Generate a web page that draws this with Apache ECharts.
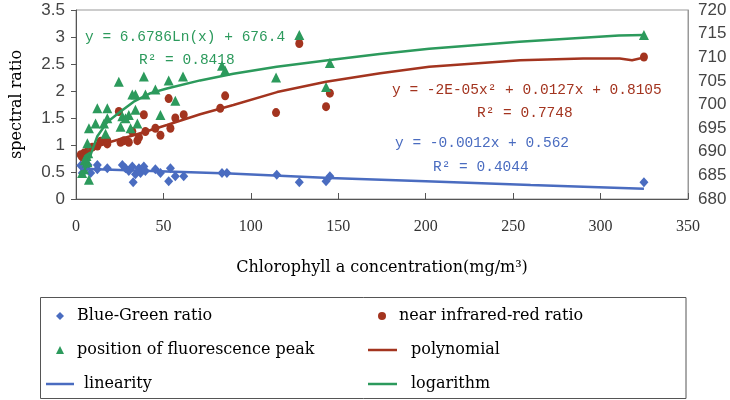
<!DOCTYPE html>
<html>
<head>
<meta charset="utf-8">
<script src="https://cdn.jsdelivr.net/npm/echarts@6/dist/echarts.min.js"></script>
<style>
  html, body { margin: 0; padding: 0; background: #fff; }
  #main { width: 730px; height: 400px; }
</style>
</head>
<body>
<div id="main"></div>
<script>
// 数据：点 [叶绿素a浓度, 值]
var blueGreen = [
  [2.7, 0.62], [3.6, 0.48], [5.5, 0.57], [6.9, 0.63], [8.4, 0.48], [12.2, 0.63], [12.2, 0.55],
  [17.9, 0.57], [26.5, 0.63], [28.3, 0.57], [30.2, 0.52], [32.2, 0.60], [32.7, 0.31], [34.0, 0.46],
  [36.0, 0.57], [36.9, 0.48], [38.8, 0.60], [39.7, 0.52], [45.4, 0.55], [48.3, 0.48], [53.0, 0.33],
  [54.0, 0.57], [56.8, 0.42], [61.6, 0.42], [83.5, 0.48], [86.3, 0.48], [114.8, 0.45], [127.7, 0.31],
  [143.0, 0.33], [145.2, 0.42], [324.8, 0.31]
];
var nirRed = [
  [2.7, 0.82], [3.5, 0.78], [4.6, 0.85], [6.5, 0.87], [7.4, 0.92], [9.3, 0.96], [12.2, 0.98],
  [14.1, 1.07], [17.9, 1.02], [17.9, 1.08], [24.5, 1.62], [25.5, 1.05], [27.4, 1.08], [30.2, 1.05],
  [32.2, 1.25], [35.1, 1.08], [36.0, 1.14], [38.8, 1.56], [39.7, 1.25], [45.4, 1.31], [48.3, 1.18],
  [53.0, 1.86], [54.0, 1.31], [56.8, 1.50], [61.6, 1.56], [82.5, 1.68], [85.3, 1.91], [114.4, 1.60],
  [127.7, 2.88], [143.0, 1.71], [145.2, 1.96], [324.8, 2.63]
];
// 荧光峰位置（右轴 nm）
var fluoPeak = [
  [3.5, 685.5], [4.6, 686.3], [5.0, 688.2], [5.5, 687.1], [6.0, 689.1], [6.5, 687.8], [7.0, 689.7],
  [7.4, 684.1], [6.5, 691.8], [7.4, 695.0], [11.2, 696.0], [12.2, 699.2], [16.0, 696.0], [16.9, 693.8],
  [17.9, 697.1], [17.9, 699.2], [24.5, 704.8], [25.5, 695.3], [26.5, 697.5], [28.3, 697.1], [30.2, 697.8],
  [31.2, 695.0], [32.2, 702.1], [34.0, 702.1], [34.0, 698.9], [35.1, 696.0], [38.8, 705.9], [39.7, 702.1],
  [45.4, 703.2], [48.3, 697.8], [53.0, 705.1], [56.8, 700.8], [61.2, 705.9], [83.5, 708.2], [85.3, 707.2],
  [114.4, 705.7], [127.7, 714.7], [143.0, 703.7], [145.2, 708.8], [324.8, 714.7]
];
// 趋势线（图上读取）
var polyLine = [
  [2.7, 0.80], [10, 0.95], [20, 1.06], [33, 1.18], [52, 1.37], [71, 1.57], [90, 1.74], [115, 1.98],
  [143, 2.17], [174, 2.33], [202, 2.45], [254, 2.57], [290, 2.60], [311, 2.60], [318, 2.57], [324.8, 2.62]
];
var linearLine = [
  [2.7, 0.56], [52, 0.51], [88, 0.47], [145, 0.39], [200, 0.33], [260, 0.26], [324.8, 0.19]
];
var logLine = [
  [3.5, 684.8], [4.6, 685.8], [8.4, 689.4], [12.2, 693.3], [17.9, 696.3], [25.5, 698.5], [33, 700.6],
  [42.6, 702.4], [52, 703.4], [71, 705.1], [90, 706.5], [114.8, 708.0], [145.2, 709.4], [173.6, 710.7],
  [202, 711.8], [253.5, 713.3], [310.5, 714.6], [324.8, 714.7]
];

var BLUE = '#4a6cc0', RED = '#a3341f', GREEN = '#2c9a5c';
var serif = 'DejaVu Serif';
var mono = 'Liberation Mono';

var myChart = echarts.init(document.getElementById('main'));

function legendItem(name, icon, left, top, w, h, pad) {
  return {
    data: [{ name: name, icon: icon }],
    left: left, top: top, padding: 0,
    itemWidth: w, itemHeight: h,
    selectedMode: false,
    textStyle: { fontFamily: serif, fontSize: 16, color: '#000', padding: [0, 0, 0, pad] }
  };
}

function eqText(text, x, y, color) {
  return {
    type: 'text', x: x, y: y, silent: true,
    style: { text: text, font: '14.5px "' + mono + '"', fill: color, align: 'left', verticalAlign: 'middle' }
  };
}

var option = {
  animation: false,
  grid: {
    left: 76, right: 42, top: 10, bottom: 201,
    show: true, borderColor: '#999', borderWidth: 1
  },
  legend: [
    legendItem('Blue-Green ratio', 'diamond', 56, 308, 8, 8, 8),
    legendItem('near infrared-red ratio', 'circle', 378, 308, 8, 8, 8),
    legendItem('position of fluorescence peak', 'triangle', 56, 342, 8, 8, 8),
    legendItem('polynomial', 'rect', 368, 342, 29, 2.5, 9),
    legendItem('linearity', 'rect', 46, 376, 28, 2.5, 5),
    legendItem('logarithm', 'rect', 368, 376, 29, 2.5, 9)
  ],
  xAxis: {
    type: 'value', min: 0, max: 350, interval: 50,
    name: 'Chlorophyll a concentration(mg/m³)',
    nameLocation: 'middle', nameGap: 61,
    nameTextStyle: { fontFamily: serif, fontSize: 16, color: '#000' },
    axisLine: { show: true, lineStyle: { color: '#555', width: 1 } },
    axisTick: { show: true, inside: true, length: 6, lineStyle: { color: '#555' } },
    axisLabel: { margin: 20, fontFamily: 'Liberation Serif', fontSize: 16, color: '#333' },
    splitLine: { show: false }
  },
  yAxis: [{
    type: 'value', min: 0, max: 3.5, interval: 0.5,
    name: 'spectral ratio', nameLocation: 'middle', nameGap: 51,
    nameTextStyle: { fontFamily: serif, fontSize: 16, color: '#000' },
    axisLine: { show: true, lineStyle: { color: '#555', width: 1 } },
    axisTick: { show: true, length: 5, lineStyle: { color: '#555' } },
    axisLabel: { margin: 11, fontFamily: 'Liberation Sans', fontSize: 17, color: '#444' },
    splitLine: { show: false }
  }, {
    type: 'value', min: 680, max: 720, interval: 5, position: 'right',
    axisLine: { show: true, lineStyle: { color: '#999', width: 1 } },
    axisTick: { show: false },
    axisLabel: { margin: 10, fontFamily: 'Liberation Sans', fontSize: 17, color: '#444' },
    splitLine: { show: false }
  }],
  series: [{
    name: 'Blue-Green ratio', type: 'scatter', data: blueGreen,
    symbol: 'diamond', symbolSize: [9, 10], itemStyle: { color: BLUE, opacity: 1 }
  }, {
    name: 'near infrared-red ratio', type: 'scatter', data: nirRed,
    symbol: 'circle', symbolSize: [8, 9], itemStyle: { color: RED, opacity: 1 }
  }, {
    name: 'position of fluorescence peak', type: 'scatter', data: fluoPeak, yAxisIndex: 1,
    symbol: 'triangle', symbolSize: 10, itemStyle: { color: GREEN, opacity: 1 }
  }, {
    name: 'polynomial', type: 'line', data: polyLine, symbol: 'none', z: 5,
    lineStyle: { color: RED, width: 2.5 }, itemStyle: { color: RED }
  }, {
    name: 'linearity', type: 'line', data: linearLine, symbol: 'none', z: 5,
    lineStyle: { color: BLUE, width: 2.5 }, itemStyle: { color: BLUE }
  }, {
    name: 'logarithm', type: 'line', data: logLine, yAxisIndex: 1, symbol: 'none', z: 5,
    lineStyle: { color: GREEN, width: 2.5 }, itemStyle: { color: GREEN }
  }],
  graphic: [
    eqText('y = 6.6786Ln(x) + 676.4', 85, 37, GREEN),
    eqText('R² = 0.8418', 139, 60, GREEN),
    eqText('y = -2E-05x² + 0.0127x + 0.8105', 392, 90, RED),
    eqText('R² = 0.7748', 477, 113, RED),
    eqText('y = -0.0012x + 0.562', 395, 143, BLUE),
    eqText('R² = 0.4044', 433, 167, BLUE),
    {
      type: 'rect', silent: true,
      shape: { x: 40.5, y: 297.5, width: 645.5, height: 101 },
      style: { fill: 'none', stroke: '#555', lineWidth: 1 }
    }
  ]
};
myChart.setOption(option);
</script>
</body>
</html>
